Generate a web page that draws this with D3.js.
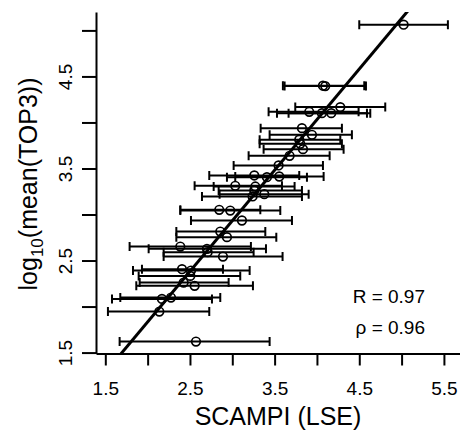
<!DOCTYPE html>
<html>
<head>
<meta charset="utf-8">
<script src="https://cdn.jsdelivr.net/npm/d3@7"></script>
<style>
  body { margin: 0; background: #fff; }
  svg text { font-family: "Liberation Sans", Arial, Helvetica, sans-serif; fill: #000; }
</style>
</head>
<body>
<div id="chart"></div>
<script>
// SCAMPI (LSE) estimate, its interval, and log10(mean(TOP3))
const scampi = [5.024, 4.071, 4.098, 4.276, 3.909, 4.059, 4.169, 3.823, 3.941, 3.791,
  3.803, 3.835, 3.677, 3.547, 3.260, 3.409, 3.555, 3.035, 3.272, 3.260,
  3.378, 3.240, 2.846, 2.976, 3.114, 2.858, 2.937, 2.386, 2.701, 2.709,
  2.890, 2.406, 2.512, 2.504, 2.425, 2.555, 2.169, 2.276, 2.138, 2.571]
const scampiLo = [4.500, 3.598, 3.618, 3.744, 3.429, 3.528, 3.665, 3.335, 3.441, 3.323,
  3.323, 3.370, 3.193, 3.016, 2.728, 2.937, 3.035, 2.555, 2.780, 2.839,
  2.850, 2.642, 2.386, 2.386, 2.512, 2.339, 2.339, 1.787, 2.012, 2.189,
  2.189, 1.933, 1.827, 1.894, 1.906, 1.866, 1.579, 1.677, 1.531, 1.669]
const scampiHi = [5.547, 4.559, 4.579, 4.807, 4.492, 4.591, 4.630, 4.295, 4.413, 4.276,
  4.295, 4.315, 4.150, 4.071, 3.791, 3.882, 4.079, 3.587, 3.736, 3.823,
  3.902, 3.823, 3.331, 3.567, 3.705, 3.390, 3.520, 3.220, 3.398, 3.252,
  3.594, 2.890, 3.205, 3.094, 2.957, 3.244, 2.760, 2.858, 2.728, 3.441]
const top3 = [5.062, 4.399, 4.395, 4.167, 4.116, 4.101, 4.101, 3.938, 3.866, 3.812,
  3.768, 3.710, 3.638, 3.533, 3.424, 3.406, 3.413, 3.312, 3.304, 3.261,
  3.221, 3.196, 3.051, 3.043, 2.935, 2.815, 2.754, 2.652, 2.627, 2.591,
  2.543, 2.406, 2.391, 2.333, 2.261, 2.225, 2.083, 2.098, 1.946, 1.620]

// fitted line: top3 = fitIntercept + fitSlope * scampi
const fitIntercept = -0.365
const fitSlope = 1.099

const xTicks = [1.5, 2, 2.5, 3, 3.5, 4, 4.5, 5, 5.5]
const xLabels = ['1.5', '2.5', '3.5', '4.5', '5.5']
const yTicks = [1.5, 2, 2.5, 3, 3.5, 4, 4.5, 5]
const yLabels = ['1.5', '2.5', '3.5', '4.5']
const stats = ['R = 0.97', 'ρ = 0.96']

const W = 460, H = 430
const pLeft = 96, pRight = 460, pTop = 12, pBottom = 353.5

const svg = d3.select('#chart').append('svg')
  .attr('width', W)
  .attr('height', H)

const x = d3.scaleLinear().domain([1.39, 5.69]).range([pLeft, pRight])
const y = d3.scaleLinear().domain([1.49, 5.2]).range([pBottom, pTop])

svg.append('clipPath').attr('id', 'plotclip')
  .append('rect')
  .attr('x', pLeft).attr('y', pTop)
  .attr('width', pRight - pLeft).attr('height', pBottom - pTop)

// axes
const xAxis = svg.append('g')
  .attr('transform', `translate(0,${pBottom})`)
  .call(d3.axisBottom(x).tickValues(xTicks).tickSize(12).tickSizeOuter(0)
    .tickFormat(d => xLabels.includes(d.toFixed(1)) ? d.toFixed(1) : ''))
xAxis.selectAll('path, line').attr('stroke', '#000').attr('stroke-width', 2)
xAxis.selectAll('text')
  .attr('y', 41).attr('dy', 0)
  .style('font-size', '19px')

const yAxis = svg.append('g')
  .attr('transform', `translate(${pLeft},0)`)
  .call(d3.axisLeft(y).tickValues(yTicks).tickSize(14).tickSizeOuter(0)
    .tickFormat(d => yLabels.includes(d.toFixed(1)) ? d.toFixed(1) : ''))
yAxis.selectAll('path, line').attr('stroke', '#000').attr('stroke-width', 2)
yAxis.selectAll('text')
  .attr('x', 0).attr('y', 0).attr('dy', 0)
  .attr('text-anchor', 'middle')
  .attr('transform', 'translate(-24.5,0) rotate(-90)')
  .style('font-size', '19px')

// axis titles
svg.append('text')
  .attr('x', 278).attr('y', 425)
  .attr('text-anchor', 'middle')
  .style('font-size', '25px')
  .text('SCAMPI (LSE)')

const yTitle = svg.append('text')
  .attr('transform', 'translate(37,184) rotate(-90)')
  .attr('text-anchor', 'middle')
  .style('font-size', '25px')
yTitle.append('tspan').text('log')
yTitle.append('tspan').attr('dy', 6).style('font-size', '17px').text('10')
yTitle.append('tspan').attr('dy', -6).text('(mean(TOP3))')

const plot = svg.append('g').attr('clip-path', 'url(#plotclip)')

// regression line
const xEnds = [x.invert(pLeft), x.invert(pRight)]
plot.append('line')
  .attr('x1', x(xEnds[0])).attr('y1', y(fitIntercept + fitSlope * xEnds[0]))
  .attr('x2', x(xEnds[1])).attr('y2', y(fitIntercept + fitSlope * xEnds[1]))
  .attr('stroke', '#000')
  .attr('stroke-width', 3)

// error bars
const idx = d3.range(scampi.length)
const bars = plot.append('g')
  .attr('stroke', '#000')
  .attr('stroke-width', 2)
  .attr('fill', 'none')

bars.selectAll('line.bar').data(idx).join('line')
  .attr('class', 'bar')
  .attr('x1', i => x(scampiLo[i])).attr('x2', i => x(scampiHi[i]))
  .attr('y1', i => y(top3[i])).attr('y2', i => y(top3[i]))

bars.selectAll('line.capl').data(idx).join('line')
  .attr('class', 'capl')
  .attr('x1', i => x(scampiLo[i])).attr('x2', i => x(scampiLo[i]))
  .attr('y1', i => y(top3[i]) - 4.5).attr('y2', i => y(top3[i]) + 4.5)

bars.selectAll('line.caph').data(idx).join('line')
  .attr('class', 'caph')
  .attr('x1', i => x(scampiHi[i])).attr('x2', i => x(scampiHi[i]))
  .attr('y1', i => y(top3[i]) - 4.5).attr('y2', i => y(top3[i]) + 4.5)

// points
plot.selectAll('circle').data(idx).join('circle')
  .attr('cx', i => x(scampi[i]))
  .attr('cy', i => y(top3[i]))
  .attr('r', 4.3)
  .attr('fill', 'none')
  .attr('stroke', '#000')
  .attr('stroke-width', 1.7)

// correlation text
svg.selectAll('text.stat').data(stats).join('text')
  .attr('class', 'stat')
  .attr('x', 425)
  .attr('y', (d, i) => 303 + i * 31)
  .attr('text-anchor', 'end')
  .style('font-size', '19px')
  .text(d => d)
</script>
</body>
</html>
